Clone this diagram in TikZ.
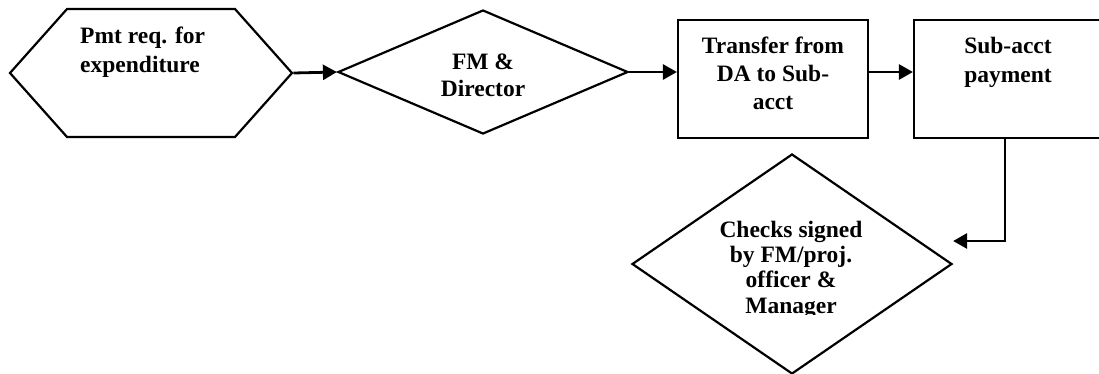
\documentclass[tikz,border=0pt]{standalone}
\usepackage{fontspec}
\setmainfont{Liberation Serif}
\usetikzlibrary{shapes.geometric,shapes.symbols,arrows.meta}
\begin{document}
\begin{tikzpicture}[x=1pt,y=-1pt,
  box/.style={draw=black, line width=2.2pt, inner sep=0pt},
  lbl/.style={font=\bfseries\fontsize{23.5}{#1}\selectfont, align=center, inner sep=0pt, anchor=base},
  flow/.style={line width=2.8pt, -{Triangle[length=14pt,width=15pt]}}]
\useasboundingbox (0,0) rectangle (1099,373);
\clip (0,0) rectangle (1099,373);
% shapes
\node[box, signal, signal to=west and east, signal pointer angle=96.6,
      minimum width=282pt, minimum height=128pt] (req) at (151,73) {};
\node[box, diamond, minimum width=290pt, minimum height=124pt] (fm) at (483,72) {};
\node[box, rectangle, minimum width=190pt, minimum height=118pt] (tr) at (773,79) {};
\node[box, rectangle, minimum width=190pt, minimum height=118pt] (sub) at (1009,79) {};
\node[box, diamond, minimum width=320pt, minimum height=220pt] (chk) at (792,264) {};
% texts (anchored at the baseline of the last line)
\node[lbl=29, align=left, anchor=base west] (reqt) at (80,72) {Pmt req. for\\expenditure};
\node[lbl=27] (fmt) at (483,96) {FM \&\\Director};
\node[lbl=28] (trt) at (773,109) {Transfer from\\DA to Sub-\\acct};
\node[lbl=29] (subt) at (1008,82) {Sub-acct\\payment};
\begin{scope}
\clip (600,150) rectangle (1000,314);
\node[lbl=25.3] (chkt) at (791,313) {Checks signed\\by FM/proj.\\officer \&\\Manager};
\end{scope}
% connectors
\draw[flow] (req.east) -- (fm.west);
\draw[flow] (fm.east) -- (fm.east -| tr.west);
\draw[flow] (fm.east -| tr.east) -- (fm.east -| sub.west);
\draw[flow] ([xshift=-4pt]sub.south) |- ([yshift=23pt]chk.east);
\end{tikzpicture}
\end{document}
